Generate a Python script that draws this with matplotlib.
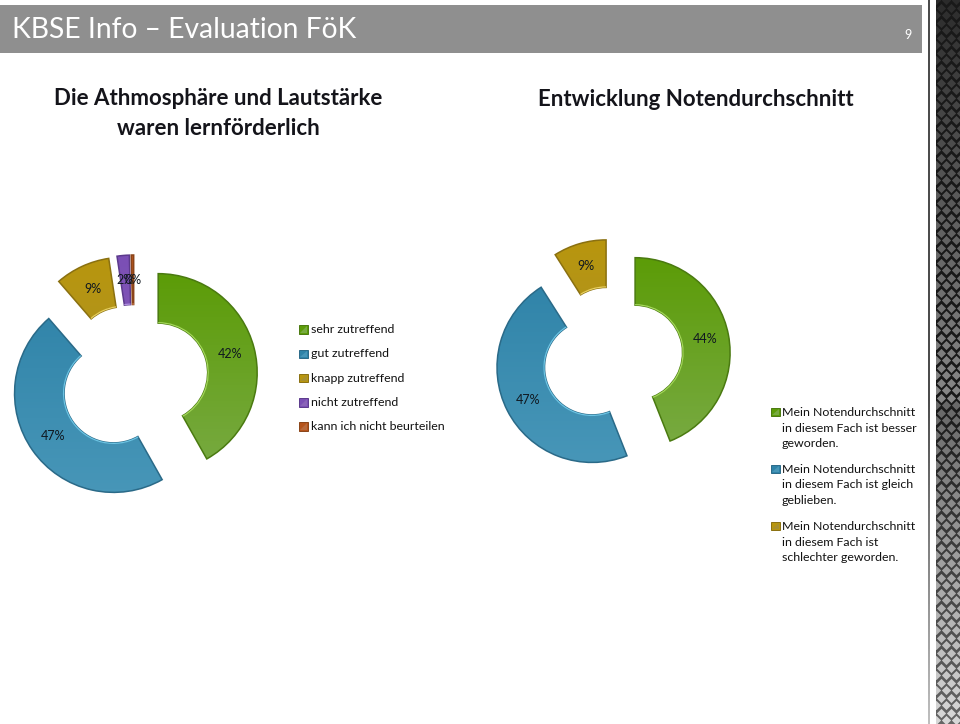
import matplotlib
matplotlib.use("Agg")
import matplotlib.pyplot as plt
import numpy as np
from matplotlib.patches import Rectangle, Arc
from matplotlib.colors import LinearSegmentedColormap

plt.rcParams['font.family'] = ['Lato', 'DejaVu Sans']

# left chart
left_labels = ["sehr zutreffend", "gut zutreffend", "knapp zutreffend", "nicht zutreffend", "kann ich nicht beurteilen"]
left_values = [42, 47, 9, 2, 0.4]
left_title = "Die Athmosphäre und Lautstärke\nwaren lernförderlich"

# right chart
right_labels = ["Mein Notendurchschnitt\nin diesem Fach ist besser\ngeworden.",
                "Mein Notendurchschnitt\nin diesem Fach ist gleich\ngeblieben.",
                "Mein Notendurchschnitt\nin diesem Fach ist\nschlechter geworden."]
right_values = [44, 47, 9]
right_title = "Entwicklung Notendurchschnitt"

header = "KBSE Info – Evaluation FöK"
page_no = "9"

# (top colour, bottom colour, edge, highlight)
shades = [("#5c9c08", "#78aa42", "#4a7a10", "#a4d85a"),
          ("#2f83a8", "#4796b8", "#2a6a88", "#6cc4e4"),
          ("#b8960e", "#a89030", "#8a7010", "#e8d060"),
          ("#7b4fb5", "#8a64b8", "#5c3a8c", "#b090e0"),
          ("#b5541c", "#b86a3c", "#8a4418", "#e09060")]

W, H = 960, 724
fig = plt.figure(figsize=(W / 100, H / 100), dpi=100)
ax = fig.add_axes([0, 0, 1, 1])


def py(y):
    return H - y


def donut(values, cx, cy, r, expl):
    wedges, texts, autotexts = ax.pie(values, startangle=90, counterclock=False, center=(cx, py(cy)), radius=r,
                                      explode=[expl] * len(values), autopct='%.0f%%', pctdistance=0.75,
                                      wedgeprops=dict(width=r * 0.5, linewidth=1.1), frame=False,
                                      textprops=dict(fontsize=9, color="#101820"))
    for w, s in zip(wedges, shades):
        w.set_facecolor("none")
        w.set_edgecolor(s[2])
        w.set_zorder(3)
        # vertical gradient, clipped to the wedge
        cmap = LinearSegmentedColormap.from_list("g", [s[0], s[1]])
        x0, y0 = w.center
        im = ax.imshow(np.linspace(0, 1, 64).reshape(-1, 1), cmap=cmap, origin="upper", aspect="auto", zorder=2,
                       extent=[x0 - r, x0 + r, y0 - r, y0 + r])
        im.set_clip_path(w)
        ax.add_patch(Arc((x0, y0), r + 1, r + 1, theta1=w.theta1, theta2=w.theta2, color=s[3], lw=0.9, zorder=4))
    for t in autotexts:
        t.set_zorder(5)


def legend_key(x, y, s, size=8.5):
    ax.add_patch(Rectangle((x, py(y + size / 2)), size, size, fc=s[0], ec=s[2], lw=0.7, zorder=4))
    ax.fill([x + 1, x + size - 1, x + size - 1], [py(y + size / 2 - 1), py(y + size / 2 - 1), py(y - size / 2 + 1)],
            color=s[1], zorder=5, lw=0)


donut(left_values, 134, 379, 99, 25)
donut(right_values, 612.5, 357, 95, 23)

# header bar
ax.add_patch(Rectangle((0, py(53)), 922, 48, fc="#8f8f8f", ec="none", zorder=1))
ax.text(12, py(30), header, color="white", fontsize=20.3, va="center", ha="left", zorder=4)
ax.text(908, py(35), page_no, color="white", fontsize=9, va="center", ha="center", zorder=4)

# titles
ax.text(218, py(113.5), left_title, fontsize=16, fontweight="bold", color="#14141a", ha="center", va="center",
        linespacing=1.55)
ax.text(696, py(99), right_title, fontsize=16, fontweight="bold", color="#14141a", ha="center", va="center")

# legends
for i, lab in enumerate(left_labels):
    y = 329.5 + i * 24.3
    legend_key(299, y, shades[i])
    ax.text(311, py(y), lab, fontsize=8.9, color="#111", va="center", ha="left")
for lab, y, s in zip(right_labels, [412, 469, 526], shades):
    legend_key(771, y, s)
    ax.text(782, py(y + 16), lab, fontsize=8.9, color="#111", va="center", ha="left", linespacing=1.45)

# carbon strip on the right
fade = np.clip((np.arange(H) - 400) / (H - 400), 0, 1).reshape(-1, 1)
strip = ax.imshow(0.1 + 0.3 * fade, cmap="gray", vmin=0, vmax=1, origin="upper", aspect="auto", zorder=1,
                  extent=[936, 960, 0, H])
ax.imshow(0.3 + 0.45 * fade, cmap="gray", vmin=0, vmax=1, origin="upper", aspect="auto", zorder=1,
          extent=[928, 930, 0, H])
clip = Rectangle((936, 0), 24, H, transform=ax.transData)
for row, y in enumerate(np.arange(0, H + 8, 7.5)):
    grey = str(min(0.85, 0.17 + 0.3 * y / 330 if y < 400 else 0.4 + 0.45 * (y - 400) / 324))
    xs = np.arange(936 + (row % 2) * 5, 966, 10)
    pts = ax.scatter(xs, np.full(len(xs), py(y)), marker="D", s=22, c=grey, lw=0, zorder=2)
    pts.set_clip_path(clip)

ax.set_xlim(0, W)
ax.set_ylim(0, H)
ax.set_aspect("auto")
ax.axis("off")

fig.savefig("out.png", dpi=100)
